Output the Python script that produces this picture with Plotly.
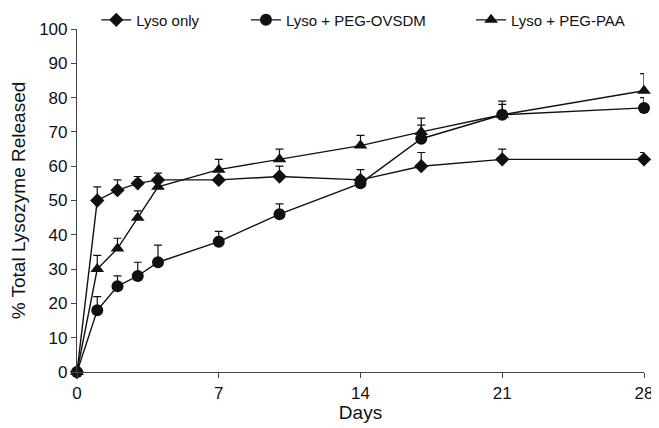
import plotly.graph_objects as go

days = [0, 1, 2, 3, 4, 7, 10, 14, 17, 21, 28]

lyso_only = [0, 50, 53, 55, 56, 56, 57, 56, 60, 62, 62]
lyso_only_err = [0, 4, 3, 2, 2, 0, 3, 3, 4, 3, 2]

peg_ovsdm = [0, 18, 25, 28, 32, 38, 46, 55, 68, 75, 77]
peg_ovsdm_err = [0, 4, 3, 4, 5, 3, 3, 2, 4, 3, 3]

peg_paa = [0, 30, 36, 45, 54, 59, 62, 66, 70, 75, 82]
peg_paa_err = [0, 4, 3, 2, 2, 3, 3, 3, 4, 4, 5]

series_names = ["Lyso only", "Lyso + PEG-OVSDM", "Lyso + PEG-PAA"]
x_ticks = [0, 7, 14, 21, 28]
y_ticks = list(range(0, 101, 10))

FONT = "Liberation Sans, Arial, sans-serif"
INK = "#111111"

fig = go.Figure()

specs = [
    (lyso_only, lyso_only_err, "diamond", 11, "legend"),
    (peg_ovsdm, peg_ovsdm_err, "circle", 12, "legend2"),
    (peg_paa, peg_paa_err, "triangle-up", 12, "legend3"),
]
for name, (vals, err, sym, size, leg) in zip(series_names, specs):
    fig.add_trace(go.Scatter(
        x=days, y=vals, name=name, mode="lines+markers",
        line=dict(color=INK, width=1.4),
        marker=dict(symbol=sym, size=size, color=INK),
        error_y=dict(type="data", symmetric=False, array=err,
                     arrayminus=[0] * len(err), color=INK,
                     thickness=1.2, width=4),
        cliponaxis=False,
        legend=leg,
    ))

# page body has an 8px margin, so the figure is sized to fill the rest
W, H, OFF = 651, 420, 8
leg_common = dict(orientation="h", yanchor="middle", xanchor="left",
                  font=dict(family=FONT, size=15, color=INK),
                  bgcolor="rgba(0,0,0,0)", itemwidth=30)
fig.update_layout(
    width=W, height=H,
    margin=dict(l=77 - OFF, r=15, t=29 - OFF, b=56, autoexpand=False),
    paper_bgcolor="white", plot_bgcolor="white",
    font=dict(family=FONT, color=INK),
    showlegend=True,
    legend=dict(x=0.034, y=1.026, **leg_common),
    legend2=dict(x=0.298, y=1.026, **leg_common),
    legend3=dict(x=0.695, y=1.026, **leg_common),
    xaxis=dict(range=[0, 28], tickvals=x_ticks, ticks="outside",
               ticklen=5, tickcolor="#444", showline=True,
               linecolor="#444", linewidth=1.2, showgrid=False,
               zeroline=False, tickfont=dict(size=17, family=FONT),
               title=dict(text="Days", font=dict(size=19, family=FONT),
                          standoff=2)),
    yaxis=dict(range=[0, 100], tickvals=y_ticks, ticks="outside",
               ticklen=5, tickcolor="#444", showline=True,
               linecolor="#444", linewidth=1.2, showgrid=False,
               zeroline=False, tickfont=dict(size=17, family=FONT),
               title=dict(text="% Total Lysozyme Released",
                          font=dict(size=19, family=FONT), standoff=8)),
)

fig.write_html("out.html")
